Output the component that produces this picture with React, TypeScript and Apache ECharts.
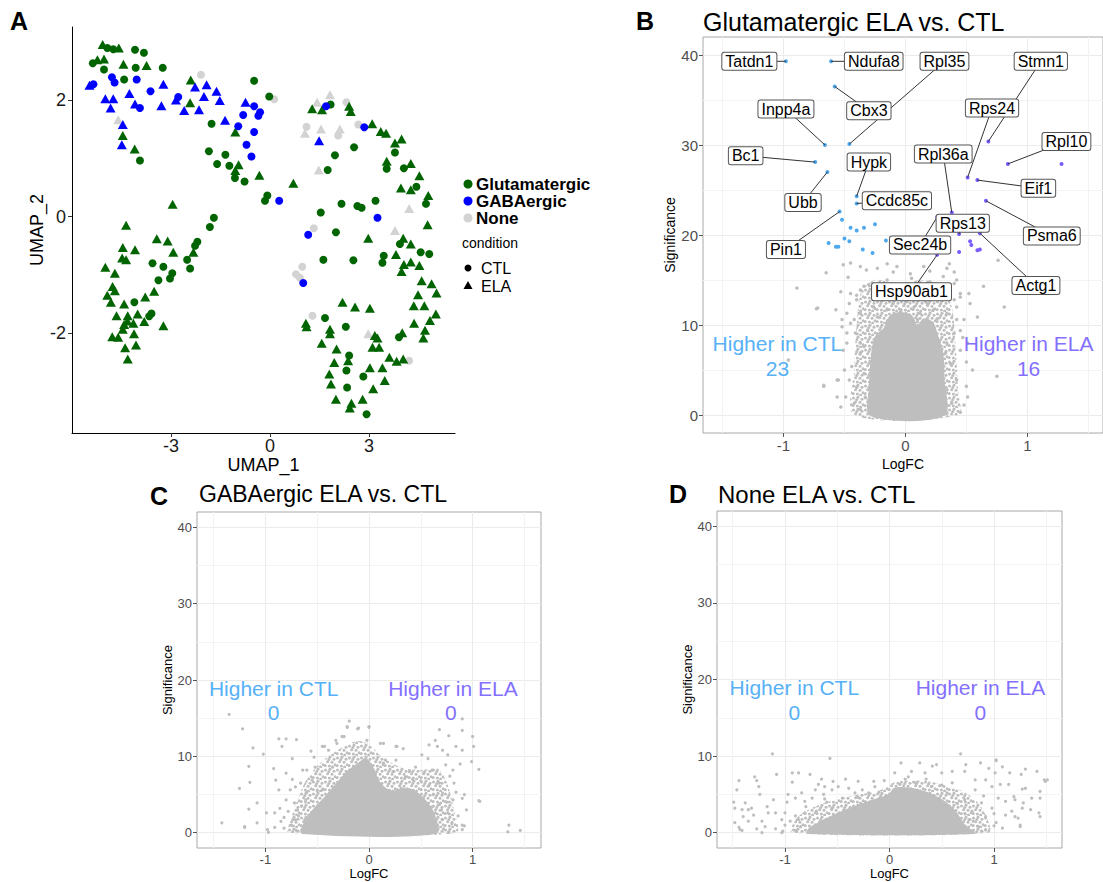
import React, { useEffect, useRef } from "react";
import * as echarts from "echarts";

const FONT = '"Liberation Sans", Arial, Helvetica, sans-serif';
const GREEN = "#006400";
const BLUE = "#0000FF";
const LGRAY = "#D3D3D3";
const CLOUD = "#BEBEBE";
const CTLC = "#56B1F7";
const ELAC = "#8470FF";

// ---------------- Panel A : UMAP (UMAP_1, UMAP_2) ----------------
const umapXTicks = [-3, 0, 3];
const umapYTicks = [-2, 0, 2];
const glutCTL = [
  [-4.93, 2.89], [-4.75, 2.87], [-4.09, 2.86], [-3.82, 2.81], [-5.37, 2.63], [-5.03, 2.52], [-4.07, 2.55], [-3.25, 2.55],
  [-4.42, 2.35], [-3.94, 0.96], [-0.48, 2.33], [-0.02, 2.06], [-1.77, 1.59], [-1.85, 1.12], [-1.35, 1.06], [-1.6, 0.9],
  [-1.23, 0.87], [-1.06, 0.66], [-0.77, 0.6], [-0.08, 0.36], [-0.15, 0.27], [1.84, 1.92], [3.79, 1.1], [2.55, 1.19],
  [1.97, 1.05], [3.54, 0.82], [4.06, 0.83], [1.75, 0.8], [4.44, 0.51], [4.73, 0.22], [2.17, 0.22], [2.65, 0.18],
  [2.78, 0.15], [3.2, 0.27], [1.54, 0.07], [2.0, -0.27], [3.94, -0.47], [4.57, -0.61], [4.83, -0.64], [3.45, -0.67],
  [3.41, -0.79], [1.62, -0.74], [2.53, -0.75], [3.91, -2.07], [1.67, -1.74], [2.3, -1.89], [2.4, -2.38], [2.32, -2.64],
  [2.83, -2.74], [2.34, -2.93], [2.93, -3.39], [-1.7, -0.02], [-1.82, -0.18], [-2.2, -0.43], [-2.27, -0.5], [-2.51, -0.74],
  [-2.42, -0.89], [-3.56, -0.8], [-3.23, -0.86], [-2.96, -0.97], [-3.03, -1.06], [-3.38, -1.09], [-4.11, -1.47],
  [-3.59, -1.66], [-3.66, -1.71],
];
const glutELA = [
  [-5.07, 2.95], [-4.58, 2.89], [-5.23, 2.69], [-5.03, 2.7], [-4.44, 2.61], [-3.74, 2.59], [-2.4, 2.34], [-2.42, 1.95],
  [-4.46, 1.39], [-4.1, 1.16], [-1.05, 1.45], [-0.95, 0.89], [-1.05, 0.79], [-0.32, 0.71], [0.71, 0.57], [1.28, 1.85],
  [1.58, 1.83], [2.4, 1.89], [2.45, 1.8], [3.1, 1.59], [3.36, 1.46], [3.52, 1.43], [3.79, 1.26], [3.99, 1.33],
  [3.54, 0.95], [4.27, 0.91], [4.53, 0.7], [3.97, 0.49], [4.27, 0.46], [4.8, 0.36], [4.78, -0.14], [2.98, -0.37],
  [4.04, -0.37], [4.27, -0.47], [3.82, -0.65], [4.06, -0.82], [4.27, -0.78], [4.53, -0.84], [3.99, -0.94], [4.6, -1.1],
  [4.9, -1.15], [4.49, -1.34], [5.05, -1.31], [4.36, -1.53], [4.68, -1.53], [5.03, -1.67], [4.85, -1.78], [4.37, -1.83],
  [4.7, -1.95], [4.65, -2.08], [4.01, -1.99], [2.2, -1.47], [2.58, -1.55], [3.03, -1.57], [1.09, -1.83], [1.11, -1.89],
  [1.82, -1.93], [1.82, -2.01], [3.18, -2.04], [3.26, -2.08], [1.57, -2.17], [3.11, -2.24], [3.31, -2.24], [2.02, -2.27],
  [2.37, -2.47], [1.95, -2.5], [3.62, -2.41], [3.84, -2.48], [4.04, -2.44], [1.8, -2.7], [3.03, -2.59], [3.41, -2.59],
  [1.85, -2.87], [3.48, -2.81], [3.13, -2.95], [2.0, -3.13], [2.47, -3.2], [2.81, -3.13], [2.42, -3.28], [-2.95, 0.21],
  [-4.36, -0.15], [-3.43, -0.38], [-3.1, -0.42], [-2.93, -0.61], [-2.32, -0.61], [-4.46, -0.53], [-4.09, -0.57],
  [-4.48, -0.71], [-4.36, -0.74], [-4.99, -0.87], [-4.7, -0.97], [-4.77, -1.2], [-4.7, -1.27], [-4.93, -1.35],
  [-4.82, -1.47], [-4.42, -1.5], [-3.78, -1.38], [-3.51, -1.28], [-4.65, -1.7], [-4.31, -1.7], [-4.01, -1.67],
  [-3.81, -1.8], [-4.32, -1.79], [-4.42, -1.85], [-4.14, -1.83], [-4.46, -1.93], [-3.23, -1.87], [-4.78, -2.06],
  [-4.6, -2.07], [-4.12, -2.01], [-4.06, -2.2], [-4.39, -2.25], [-4.31, -2.44],
];
const gabaCTL = [
  [-4.79, 2.39], [-4.71, 2.3], [-5.35, 2.27], [-4.04, 2.35], [-3.62, 2.15], [-3.94, 1.86], [-2.78, 2.05], [-0.48, 1.89],
  [-0.3, 1.79], [-0.35, 1.73], [-0.81, 1.74], [-0.96, 1.55], [-0.48, 1.45], [-0.71, 1.23], [-0.56, 1.03], [0.28, 0.27],
  [1.7, 1.89], [2.86, 1.53], [3.26, -0.02], [1.16, -0.31], [1.01, -1.14],
];
const gabaELA = [
  [-5.47, 2.25], [-3.23, 2.27], [-4.26, 2.11], [-4.99, 2.02], [-4.75, 2.02], [-4.83, 1.86], [-4.09, 1.93], [-3.29, 1.9],
  [-2.85, 2.0], [-2.6, 1.82], [-2.15, 1.83], [-2.27, 2.22], [-1.92, 2.26], [-2.0, 2.06], [-1.62, 2.15], [-1.52, 1.99],
  [-1.36, 1.65], [-0.74, 1.96], [-4.46, 1.58], [-4.49, 1.23], [1.49, 1.3],
];
const noneCTL = [
  [-2.09, 2.43], [0.13, 2.01], [2.32, 1.96], [1.11, 1.54], [2.07, 1.39], [2.68, 1.58], [1.33, -0.2], [0.98, -0.86],
  [0.79, -0.99], [0.91, -1.05], [1.29, -1.7], [4.22, -2.47],
];
const noneELA = [
  [-4.6, 1.66], [1.82, 2.09], [1.43, 1.96], [1.06, 1.43], [1.55, 1.5], [2.12, 1.5], [1.48, 0.8], [4.22, 0.14],
  [3.79, -0.24], [2.98, -2.01],
];

// ---------------- Volcano panels (LogFC, Significance) ----------------
const logfcTicks = [-1, 0, 1];
const sigTicks = [0, 10, 20, 30, 40];

// B: Glutamatergic
const glutCtlGenes = ["Tatdn1", "Ndufa8", "Cbx3", "Inpp4a", "Rpl35", "Bc1", "Ubb", "Hypk", "Ccdc85c", "Pin1"];
const glutCtlGeneValues = [
  [-0.98, 39.3], [-0.61, 39.3], [-0.58, 36.5], [-0.66, 30.0], [-0.46, 30.1], [-0.74, 28.1], [-0.64, 27.0],
  [-0.4, 24.3], [-0.4, 23.5], [-0.54, 22.6],
];
const glutCtlOther = [
  [-0.52, 21.7], [-0.45, 20.8], [-0.4, 20.5], [-0.34, 20.8], [-0.25, 21.2], [-0.5, 19.6], [-0.46, 19.3], [-0.63, 19.1],
  [-0.57, 18.7], [-0.55, 18.7], [-0.35, 18.4], [-0.27, 18.0], [-0.16, 19.4],
];
const glutElaGenes = ["Stmn1", "Rps24", "Rpl10", "Eif1", "Psma6", "Rpl36a", "Rps13", "Actg1", "Sec24b", "Hsp90ab1"];
const glutElaGeneValues = [
  [0.68, 30.4], [0.51, 26.4], [0.84, 27.9], [0.59, 26.1], [0.66, 23.8], [0.38, 22.5], [0.44, 20.1], [0.61, 20.2],
  [0.26, 22.0], [0.26, 17.8],
];
const glutElaOther = [[1.28, 27.9], [0.53, 19.3], [0.54, 18.9], [0.59, 18.3], [0.61, 18.4], [0.44, 18.1]];
// label box anchors (LogFC, Significance), same order as genes
const glutCtlLabelAt = [
  [-1.28, 39.3], [-0.26, 39.3], [-0.3, 33.8], [-0.98, 34.0], [0.32, 39.3], [-1.31, 28.8], [-0.84, 23.6],
  [-0.3, 28.1], [-0.07, 23.8], [-0.98, 18.4],
];
const glutElaLabelAt = [
  [1.11, 39.3], [0.71, 34.1], [1.32, 30.4], [1.09, 25.2], [1.2, 19.9], [0.31, 29.0], [0.47, 21.3], [1.07, 14.4],
  [0.12, 18.9], [0.05, 13.7],
];
// outline of the region where points overlap completely, and of the densely dotted zone around it
const glutCore = [
  [-0.28, 0], [0.31, 0], [0.31, 4], [0.3, 6.9], [0.26, 8.7], [0.22, 10.2], [0.15, 10.6], [0.1, 9.6], [0.05, 10.9],
  [-0.05, 11.3], [-0.13, 10.8], [-0.17, 9.6], [-0.24, 8.7], [-0.27, 6.9], [-0.29, 3],
];
const glutDense = [
  [-0.42, 0], [0.43, 0], [0.43, 3], [0.41, 8], [0.38, 12], [0.3, 14.2], [0.15, 15.0], [-0.05, 14.6], [-0.25, 15.0],
  [-0.36, 13.8], [-0.4, 10], [-0.42, 5],
];
const glutGray = [
  [-0.89, 14.1], [-0.73, 11.8], [-0.65, 15.8], [-0.53, 13.7], [-0.67, 3.2], [-0.55, 3.9], [-0.56, 2.0], [-0.96, 6.1],
  [0.55, 5.0], [0.75, 4.3], [0.64, 14.3], [0.81, 12.0], [0.76, 17.2], [0.45, 0.3], [-0.51, 16.7], [-0.45, 16.9],
  [-0.37, 16.5], [-0.32, 16.1], [-0.23, 16.3], [-0.1, 15.9], [-0.07, 16.5], [0.04, 15.7], [0.15, 16.5], [0.34, 16.3],
  [0.4, 15.9], [0.31, 15.4], [0.42, 15.0], [-0.45, 13.5], [-0.4, 12.8], [0.4, 12.8], [0.45, 13.5], [-0.48, 11.3],
  [-0.48, 9.1], [0.42, 10.6], [0.45, 9.4], [0.51, 8.0], [-0.51, 7.2], [-0.42, 10.6], [-0.37, 8.0], [-0.26, 12.8],
  [-0.34, 14.3], [0.31, 13.9], [-0.46, 12.4], [-0.4, 13.3], [-0.37, 11.3], [-0.45, 10.2], [-0.41, 9.1], [-0.48, 8.0],
  [-0.37, 6.9], [-0.44, 5.4], [-0.46, 3.9], [-0.4, 3.1], [-0.49, 2.0], [-0.42, 1.3], [-0.37, 0.6], [-0.33, 2.0],
  [-0.34, 4.6], [-0.31, 9.4], [-0.37, 13.9], [-0.56, 3.9], [-0.53, 0.9], [-0.67, 3.3], [-0.57, 11.7], [-0.72, 11.9],
  [-0.52, 10.6], [-0.34, 7.6], [0.34, 11.3], [0.42, 12.0], [0.48, 10.6], [0.4, 9.1], [0.34, 8.0], [0.45, 7.2],
  [0.37, 5.7], [0.42, 3.9], [0.34, 2.8], [0.38, 1.3], [0.34, 0.2], [0.51, 2.0], [0.52, 13.5], [0.59, 10.9],
  [0.45, 13.1], [0.53, 12.4], [0.31, 13.9], [0.4, 14.6], [0.33, 6.9], [-0.26, 12.0], [-0.2, 12.8], [-0.15, 11.7],
  [-0.1, 12.4], [-0.04, 11.5], [0.01, 12.6], [0.07, 12.0], [0.12, 11.3], [0.18, 12.4], [0.23, 11.7], [-0.23, 10.9],
  [0.1, 10.6], [0.26, 10.7], [-0.12, 10.9], [0.03, 11.1], [-0.3, 14.5], [-0.15, 15.0], [0.0, 14.2], [0.1, 13.8],
  [0.2, 14.8], [0.28, 13.0], [-0.2, 13.5], [0.05, 15.2], [-0.05, 13.0], [0.15, 12.8], [0.5, 5.9], [0.48, 1.1],
  [0.5, 3.2], [-0.5, 5.0], [-0.52, 9.8], [0.47, 8.6], [-0.47, 15.3], [0.36, 16.8], [0.2, 16.0], [-0.15, 16.8],
];

// C: GABAergic
const gabaCore = [
  [-0.64, 0], [0.64, 0], [0.62, 2.5], [0.55, 4.0], [0.45, 5.3], [0.34, 5.7], [0.22, 5.3], [0.1, 6.5], [0.03, 8.5],
  [-0.03, 9.6], [-0.1, 9.0], [-0.2, 8.0], [-0.3, 6.5], [-0.42, 4.6], [-0.55, 2.7], [-0.62, 1.2],
];
const gabaDense = [
  [-0.78, 0], [0.84, 0], [0.82, 3], [0.75, 6.6], [0.66, 8.4], [0.5, 8.2], [0.3, 8.6], [0.12, 10.0], [0.0, 11.6],
  [-0.12, 12.0], [-0.28, 11.0], [-0.45, 9.4], [-0.6, 7.0], [-0.7, 4], [-0.76, 1.5],
];
const gabaGray = [
  [-1.35, 15.5], [-1.22, 13.6], [-1.12, 11.1], [-1.02, 10.3], [-1.16, 8.7], [-1.25, 5.8], [-1.08, 3.9], [-1.16, 3.1],
  [-1.42, 1.3], [-1.2, 0.7], [-1.08, 1.3], [-0.97, 0.04], [-0.91, 0.7], [-0.82, 0.6], [-0.87, 12.3], [-0.8, 12.3],
  [-0.7, 12.2], [-0.84, 11.3], [-0.92, 8.4], [-0.9, 6.9], [-0.87, 5.6], [-0.8, 4.3], [-0.71, 6.0], [-0.64, 8.2],
  [-0.74, 9.7], [-0.56, 10.7], [-0.45, 11.3], [-0.39, 10.8], [-0.32, 12.1], [-0.26, 12.6], [-0.19, 14.6],
  [-0.1, 13.7], [-0.21, 13.8], [-0.99, 2.6], [-0.91, 2.6], [-0.69, 3.0], [-0.61, 4.3], [-0.55, 6.9], [-0.52, 8.6],
  [-0.8, 7.8], [-0.45, 5.6], [-0.35, 8.6], [-0.71, 1.7], [-0.61, 1.0], [-1.15, 6.6], [-1.2, 0.8], [-0.98, 0.4],
  [-0.72, 3.9], [-0.76, 5.6], [-0.66, 6.5], [-0.6, 8.2], [-0.53, 9.9], [-0.43, 11.3], [-0.31, 11.7], [-0.24, 12.6],
  [-0.21, 13.9], [-0.11, 13.6], [0.0, 13.9], [-0.02, 12.1], [0.11, 11.7], [0.27, 11.3], [0.26, 9.5], [0.14, 9.1],
  [0.9, 14.9], [0.9, 13.4], [0.77, 12.7], [0.68, 13.5], [0.64, 12.1], [0.66, 11.3], [0.71, 10.8], [0.76, 10.2],
  [0.58, 11.5], [0.57, 9.7], [0.51, 10.2], [0.33, 11.0], [0.26, 11.3], [0.14, 11.7], [1.0, 12.6], [1.01, 11.3],
  [0.99, 9.3], [1.06, 8.3], [0.88, 9.0], [0.81, 8.2], [0.82, 6.5], [0.9, 4.5], [1.06, 4.2], [0.81, 4.3], [0.71, 5.2],
  [0.68, 6.5], [0.84, 11.3], [0.9, 10.8], [0.74, 8.9], [0.61, 8.2], [0.53, 7.8], [0.45, 8.6], [0.39, 8.0],
  [0.35, 7.3], [0.31, 5.8], [0.45, 4.5], [0.61, 3.4], [0.76, 2.6], [0.71, 1.7], [0.77, 0.04], [0.9, 1.0], [0.9, 0.4],
  [1.35, 1.0], [1.34, 0.1], [1.46, 0.3], [0.0, 13.8], [0.16, 9.5], [0.23, 8.0], [0.68, 3.7], [0.64, 2.6], [0.55, 3.0],
  [0.6, 1.7], [0.53, 2.1], [0.92, 5.0], [1.07, 4.1], [0.92, 0.9], [0.62, 5.0], [0.7, 3.0], [0.58, 6.2], [0.75, 4.0],
  [0.66, 1.0], [0.72, 0.5], [0.5, 6.8], [0.42, 7.0], [0.58, 0.3], [0.8, 1.2], [-0.7, 0.3], [-0.75, 1.0], [-0.68, 2.2],
  [-0.78, 2.8], [-0.6, 5.3], [-0.5, 5.5], [-0.65, 3.5], [-0.85, 1.5], [-0.82, 2.0], [-0.86, 3.2], [-0.74, 7.0],
  [0.86, 2.2], [0.94, 3.0], [0.84, 5.3], [0.78, 7.4],
];

// D: None
const noneCore = [
  [-0.78, 0], [0.8, 0], [0.72, 0.8], [0.62, 2.8], [0.5, 4.2], [0.35, 5.2], [0.2, 5.7], [0.05, 5.7], [0.0, 4.9],
  [-0.15, 4.2], [-0.3, 3.5], [-0.5, 2.4], [-0.65, 1.4], [-0.75, 0.6],
];
const noneDense = [
  [-0.93, 0], [0.95, 0], [0.93, 2], [0.84, 4], [0.7, 5.4], [0.5, 6.3], [0.3, 6.8], [0.05, 6.6], [-0.1, 5.5],
  [-0.4, 4.7], [-0.7, 3.5], [-0.88, 2],
];
const noneGray = [
  [-1.12, 10.3], [-0.57, 9.7], [-1.44, 6.8], [-1.46, 5.6], [-1.29, 7.3], [-1.27, 6.8], [-1.25, 6.0], [-1.08, 7.6],
  [-0.93, 7.8], [-0.87, 7.8], [-0.76, 7.6], [-0.93, 6.6], [-0.65, 7.0], [-0.62, 6.0], [-0.54, 6.7], [-0.42, 7.0],
  [-0.3, 6.7], [-0.15, 6.7], [-1.24, 5.0], [-1.49, 4.0], [-1.48, 3.2], [-1.41, 3.0], [-1.38, 3.9], [-1.35, 3.0],
  [-1.4, 2.1], [-1.32, 3.2], [-1.3, 2.3], [-1.35, 1.5], [-1.48, 1.3], [-1.44, 0.7], [-1.41, 0.3], [-1.27, 0.5],
  [-1.22, 1.5], [-1.19, 0.8], [-1.16, 2.6], [-1.17, 3.4], [-1.11, 4.3], [-1.09, 2.6], [-1.03, 1.7], [-1.0, 1.0],
  [-0.98, 4.0], [-0.97, 5.0], [-0.9, 4.5], [-0.84, 5.2], [-0.81, 4.1], [-0.74, 4.5], [-0.71, 5.6], [-0.68, 6.3],
  [-0.63, 5.0], [-0.55, 5.6], [-0.49, 6.0], [-0.39, 5.8], [-0.33, 5.2], [-0.26, 5.6], [-0.2, 5.2], [-0.14, 6.0],
  [-0.87, 1.7], [-0.81, 2.6], [-1.09, 0.5], [-0.9, 0.3], [-1.22, 0], [-1.03, 0], [-1.43, 0.4],
  [0.68, 10.3], [0.11, 9.1], [0.29, 9.1], [0.41, 8.7], [0.45, 8.9], [0.73, 8.9], [0.87, 9.1], [1.02, 9.4],
  [1.08, 8.6], [0.95, 8.4], [1.01, 7.8], [1.15, 7.8], [1.26, 7.6], [1.3, 8.3], [1.41, 8.0], [1.48, 6.9], [1.44, 5.4],
  [1.44, 4.5], [1.27, 5.7], [1.3, 5.8], [1.19, 4.7], [1.14, 6.3], [1.06, 6.3], [0.98, 6.0], [0.92, 6.9], [0.82, 6.9],
  [0.72, 8.0], [0.6, 8.0], [0.5, 7.8], [0.34, 7.8], [0.21, 8.0], [0.05, 7.8], [0.18, 7.3], [1.04, 4.5], [1.11, 4.1],
  [1.2, 4.3], [1.27, 3.2], [1.35, 3.0], [1.43, 2.6], [1.44, 2.1], [1.17, 2.8], [1.11, 2.3], [1.2, 2.1], [1.23, 1.9],
  [1.25, 1.0], [1.08, 0.6], [1.02, 1.3], [0.92, 2.1], [0.98, 3.2], [0.88, 3.9], [0.79, 2.8], [0.76, 1.7], [0.85, 0.8],
  [0.92, 0.4], [0.72, 4.3], [0.82, 5.6], [1.02, 9.5], [1.51, 6.9], [1.49, 6.7], [1.28, 3.9], [1.25, 0.8], [1.36, 4.5],
  [-0.6, 4.0], [-0.45, 4.5], [-0.3, 4.6], [-0.1, 5.3], [0.1, 6.3], [0.25, 6.5], [0.4, 6.0], [0.55, 5.2], [0.65, 3.8],
  [0.72, 2.5], [0.8, 1.5], [0.88, 0.2], [-0.7, 2.8], [-0.85, 0.8], [-0.95, 1.5], [-0.9, 2.2], [-0.8, 3.4],
  [-0.55, 3.2], [-0.05, 6.8], [0.35, 7.0], [0.6, 6.5], [0.5, 6.2], [-1.0, 2.6], [-1.02, 0.2], [1.0, 0.9],
  [1.0, 2.5], [0.9, 4.8], [-0.62, 4.4], [0.15, 7.0],
];

// annotation counts
const annotText = ["Higher in CTL", "Higher in ELA"];
const glutCounts = ["23", "16"];
const gabaCounts = ["0", "0"];
const noneCounts = ["0", "0"];

// dotted texture used for the densely overplotted (but not solid) zone of each cloud
const DOT_TILE =
  "data:image/svg+xml;utf8," +
  encodeURIComponent(
    '<svg xmlns="http://www.w3.org/2000/svg" width="12" height="12" fill="#BEBEBE">' +
      '<circle cx="1.5" cy="2" r="1.5"/><circle cx="6" cy="1.2" r="1.5"/><circle cx="10" cy="3.2" r="1.5"/>' +
      '<circle cx="3.6" cy="5.8" r="1.5"/><circle cx="8" cy="6.3" r="1.5"/><circle cx="11.2" cy="8.8" r="1.5"/>' +
      '<circle cx="1.2" cy="9.6" r="1.5"/><circle cx="5.4" cy="10.1" r="1.5"/><circle cx="8.6" cy="11" r="1.5"/>' +
      '<circle cx="4.8" cy="3.4" r="1.5"/></svg>'
  );
const DOT_FILL: any = { image: DOT_TILE, repeat: "repeat", imageWidth: 12, imageHeight: 12 };

function volcanoAxes(idx: number, xmin: number, xmax: number, fs: number, nameFs: number, gapX: number, gapY: number) {
  const x = {
    type: "value", gridIndex: idx, min: xmin, max: xmax, splitNumber: 3,
    axisLine: { show: false, onZero: false },
    axisTick: { show: true, customValues: logfcTicks, length: 4, lineStyle: { color: "#555" } },
    axisLabel: { customValues: logfcTicks, color: "#4D4D4D", fontSize: fs, fontFamily: FONT, margin: 5 },
    splitLine: { show: true, lineStyle: { color: "#EBEBEB", width: 1 } },
    minorTick: { show: false, splitNumber: 2 },
    minorSplitLine: { show: true, lineStyle: { color: "#F3F3F3", width: 1 } },
    name: "LogFC", nameLocation: "middle", nameGap: gapX,
    nameTextStyle: { fontSize: nameFs, color: "#000", fontFamily: FONT },
  };
  const y = {
    type: "value", gridIndex: idx, min: -2, max: 42, splitNumber: 5,
    axisLine: { show: false, onZero: false },
    axisTick: { show: true, customValues: sigTicks, length: 4, lineStyle: { color: "#555" } },
    axisLabel: { customValues: sigTicks, color: "#4D4D4D", fontSize: fs, fontFamily: FONT, margin: 5 },
    splitLine: { show: true, lineStyle: { color: "#EBEBEB", width: 1 } },
    minorTick: { show: false, splitNumber: 2 },
    minorSplitLine: { show: true, lineStyle: { color: "#F3F3F3", width: 1 } },
    name: "Significance", nameLocation: "middle", nameGap: gapY,
    nameTextStyle: { fontSize: nameFs, color: "#000", fontFamily: FONT },
  };
  return { x, y };
}

function regionSeries(idx: number, poly: number[][], fill: any, solid: boolean) {
  return {
    type: "custom", xAxisIndex: idx, yAxisIndex: idx, silent: true, z: 2,
    data: [[0, 0]], encode: { x: 0, y: 1 },
    renderItem: (_p: any, api: any) => ({
      type: "polygon",
      shape: { points: poly.map((p) => api.coord(p)), smooth: 0.3 },
      style: solid ? { fill, stroke: CLOUD, lineWidth: 2.5 } : { fill },
    }),
  };
}

function pointSeries(idx: number, data: number[][], color: string, size: number, z: number) {
  return {
    type: "scatter", xAxisIndex: idx, yAxisIndex: idx, data, symbol: "circle", symbolSize: size, z,
    itemStyle: { color, opacity: 1 }, silent: true,
  };
}

function annotSeries(idx: number, pos: number[][], texts: string[], colors: string[]) {
  return {
    type: "custom", xAxisIndex: idx, yAxisIndex: idx, silent: true, z: 9,
    data: pos.map((p) => [p[0], p[1]]), encode: { x: 0, y: 1 },
    renderItem: (params: any, api: any) => {
      const c = api.coord(pos[params.dataIndex]);
      return {
        type: "text", x: c[0], y: c[1],
        style: {
          text: texts[params.dataIndex], fill: colors[params.dataIndex],
          font: `21px ${FONT}`, align: "center", verticalAlign: "middle",
        },
      };
    },
  };
}

export default function App() {
  const ref = useRef<HTMLDivElement>(null);
  useEffect(() => {
    if (!ref.current) return;
    const chart = echarts.init(ref.current, null, { renderer: "svg" });

    const bAx = volcanoAxes(1, -1.66, 1.62, 15, 14, 24, 24);
    const cAx = volcanoAxes(2, -1.66, 1.66, 13, 13, 15, 21);
    const dAx = volcanoAxes(3, -1.65, 1.65, 13, 13, 15, 21);

    const allGenes = [...glutCtlGenes, ...glutElaGenes];
    const allGeneVals = [...glutCtlGeneValues, ...glutElaGeneValues];
    const allLabelAt = [...glutCtlLabelAt, ...glutElaLabelAt];

    const umapX = {
      type: "value", gridIndex: 0, min: -6.0, max: 5.61,
      axisLine: { show: true, onZero: false, lineStyle: { color: "#000", width: 1 } },
      axisTick: { show: true, customValues: umapXTicks, length: 4, lineStyle: { color: "#333" } },
      axisLabel: { customValues: umapXTicks, color: "#1a1a1a", fontSize: 18, fontFamily: FONT, margin: 4 },
      splitLine: { show: false },
      name: "UMAP_1", nameLocation: "middle", nameGap: 20,
      nameTextStyle: { fontSize: 18, color: "#000", fontFamily: FONT },
    };
    const umapY = {
      type: "value", gridIndex: 0, min: -3.71, max: 3.25,
      axisLine: { show: true, onZero: false, lineStyle: { color: "#000", width: 1 } },
      axisTick: { show: true, customValues: umapYTicks, length: 4, lineStyle: { color: "#333" } },
      axisLabel: { customValues: umapYTicks, color: "#1a1a1a", fontSize: 18, fontFamily: FONT, margin: 6 },
      splitLine: { show: false },
      name: "UMAP_2", nameLocation: "middle", nameGap: 26,
      nameTextStyle: { fontSize: 18, color: "#000", fontFamily: FONT },
    };

    const umapSeries = (data: number[][], color: string, tri: boolean) => ({
      type: "scatter", xAxisIndex: 0, yAxisIndex: 0, data,
      symbol: tri ? "triangle" : "circle", symbolSize: tri ? [10, 9] : 8,
      itemStyle: { color, opacity: 1 }, silent: true, z: 3,
    });

    const legendG: any[] = [
      { type: "circle", shape: { cx: 468, cy: 184, r: 4.5 }, style: { fill: GREEN } },
      { type: "text", x: 476, y: 184, style: { text: "Glutamatergic", font: `bold 17px ${FONT}`, fill: "#000", verticalAlign: "middle" } },
      { type: "circle", shape: { cx: 468, cy: 201, r: 4.5 }, style: { fill: BLUE } },
      { type: "text", x: 476, y: 201, style: { text: "GABAergic", font: `bold 17px ${FONT}`, fill: "#000", verticalAlign: "middle" } },
      { type: "circle", shape: { cx: 468, cy: 218, r: 4.5 }, style: { fill: LGRAY } },
      { type: "text", x: 476, y: 218, style: { text: "None", font: `bold 17px ${FONT}`, fill: "#000", verticalAlign: "middle" } },
      { type: "text", x: 462, y: 243, style: { text: "condition", font: `14px ${FONT}`, fill: "#000", verticalAlign: "middle" } },
      { type: "circle", shape: { cx: 468, cy: 268, r: 3.5 }, style: { fill: "#000" } },
      { type: "text", x: 481, y: 268, style: { text: "CTL", font: `16px ${FONT}`, fill: "#000", verticalAlign: "middle" } },
      { type: "polygon", shape: { points: [[468, 281], [472.5, 289], [463.5, 289]] }, style: { fill: "#000" } },
      { type: "text", x: 481, y: 286, style: { text: "ELA", font: `16px ${FONT}`, fill: "#000", verticalAlign: "middle" } },
    ];
    const headG: any[] = [
      { type: "text", x: 19, y: 21, style: { text: "A", font: `bold 25px ${FONT}`, fill: "#000", align: "center", verticalAlign: "middle" } },
      { type: "text", x: 645, y: 21, style: { text: "B", font: `bold 25px ${FONT}`, fill: "#000", align: "center", verticalAlign: "middle" } },
      { type: "text", x: 159, y: 496, style: { text: "C", font: `bold 25px ${FONT}`, fill: "#000", align: "center", verticalAlign: "middle" } },
      { type: "text", x: 678, y: 494, style: { text: "D", font: `bold 25px ${FONT}`, fill: "#000", align: "center", verticalAlign: "middle" } },
      { type: "text", x: 703, y: 22, style: { text: "Glutamatergic ELA vs. CTL", font: `25px ${FONT}`, fill: "#000", verticalAlign: "middle" } },
      { type: "text", x: 199, y: 494, style: { text: "GABAergic ELA vs. CTL", font: `23px ${FONT}`, fill: "#000", verticalAlign: "middle" } },
      { type: "text", x: 718, y: 494, style: { text: "None ELA vs. CTL", font: `24px ${FONT}`, fill: "#000", verticalAlign: "middle" } },
    ];

    const gridFrame = { show: true, borderColor: "#A8A8A8", borderWidth: 1, backgroundColor: "#fff" };

    chart.setOption({
      animation: false,
      backgroundColor: "#fff",
      textStyle: { fontFamily: FONT },
      grid: [
        { left: 72, top: 27, width: 383, height: 406 },
        { left: 703, top: 37, width: 400, height: 396, ...gridFrame },
        { left: 197, top: 512, width: 344, height: 336, ...gridFrame },
        { left: 717, top: 511, width: 345, height: 337, ...gridFrame },
      ],
      xAxis: [umapX, bAx.x, cAx.x, dAx.x],
      yAxis: [umapY, bAx.y, cAx.y, dAx.y],
      graphic: [...legendG, ...headG],
      series: [
        umapSeries(noneCTL, LGRAY, false),
        umapSeries(noneELA, LGRAY, true),
        umapSeries(glutCTL, GREEN, false),
        umapSeries(glutELA, GREEN, true),
        umapSeries(gabaCTL, BLUE, false),
        umapSeries(gabaELA, BLUE, true),

        // B
        regionSeries(1, glutDense, DOT_FILL, false),
        regionSeries(1, glutCore, CLOUD, true),
        pointSeries(1, glutGray, CLOUD, 3.5, 3),
        pointSeries(1, [...glutCtlGeneValues, ...glutCtlOther], "#4FA8EC", 4, 4),
        pointSeries(1, [...glutElaGeneValues, ...glutElaOther], "#7A5CFF", 4, 4),
        {
          type: "custom", xAxisIndex: 1, yAxisIndex: 1, silent: true, z: 5,
          data: allGeneVals.map((p) => [p[0], p[1]]), encode: { x: 0, y: 1 },
          renderItem: (params: any, api: any) => {
            const p = api.coord(allGeneVals[params.dataIndex]);
            const l = api.coord(allLabelAt[params.dataIndex]);
            return {
              type: "line", shape: { x1: p[0], y1: p[1], x2: l[0], y2: l[1] },
              style: { stroke: "#333", lineWidth: 1 },
            };
          },
        },
        {
          type: "custom", xAxisIndex: 1, yAxisIndex: 1, silent: true, z: 6,
          data: allLabelAt.map((p) => [p[0], p[1]]), encode: { x: 0, y: 1 },
          renderItem: (params: any, api: any) => {
            const l = api.coord(allLabelAt[params.dataIndex]);
            return {
              type: "text", x: l[0], y: l[1],
              style: {
                text: allGenes[params.dataIndex], font: `16px ${FONT}`, fill: "#000",
                align: "center", verticalAlign: "middle",
                backgroundColor: "#fff", borderColor: "#555", borderWidth: 1, borderRadius: 2, padding: [1, 3, 0, 3],
              },
            };
          },
        },
        annotSeries(1, [[-1.05, 8.0], [1.01, 8.0], [-1.05, 5.2], [1.01, 5.2]],
          [...annotText, ...glutCounts], [CTLC, ELAC, CTLC, ELAC]),

        // C
        regionSeries(2, gabaDense, DOT_FILL, false),
        regionSeries(2, gabaCore, CLOUD, true),
        pointSeries(2, gabaGray, CLOUD, 3.2, 3),
        annotSeries(2, [[-0.92, 18.9], [0.81, 18.9], [-0.92, 15.8], [0.79, 15.8]],
          [...annotText, ...gabaCounts], [CTLC, ELAC, CTLC, ELAC]),

        // D
        regionSeries(3, noneDense, DOT_FILL, false),
        regionSeries(3, noneCore, CLOUD, true),
        pointSeries(3, noneGray, CLOUD, 3.2, 3),
        annotSeries(3, [[-0.91, 18.9], [0.87, 18.9], [-0.91, 15.7], [0.87, 15.7]],
          [...annotText, ...noneCounts], [CTLC, ELAC, CTLC, ELAC]),
      ],
    });
    return () => chart.dispose();
  }, []);
  return (
    <div
      ref={ref}
      style={{ position: "fixed", left: 0, top: 0, width: 1103, height: 882, background: "#fff" }}
    />
  );
}
